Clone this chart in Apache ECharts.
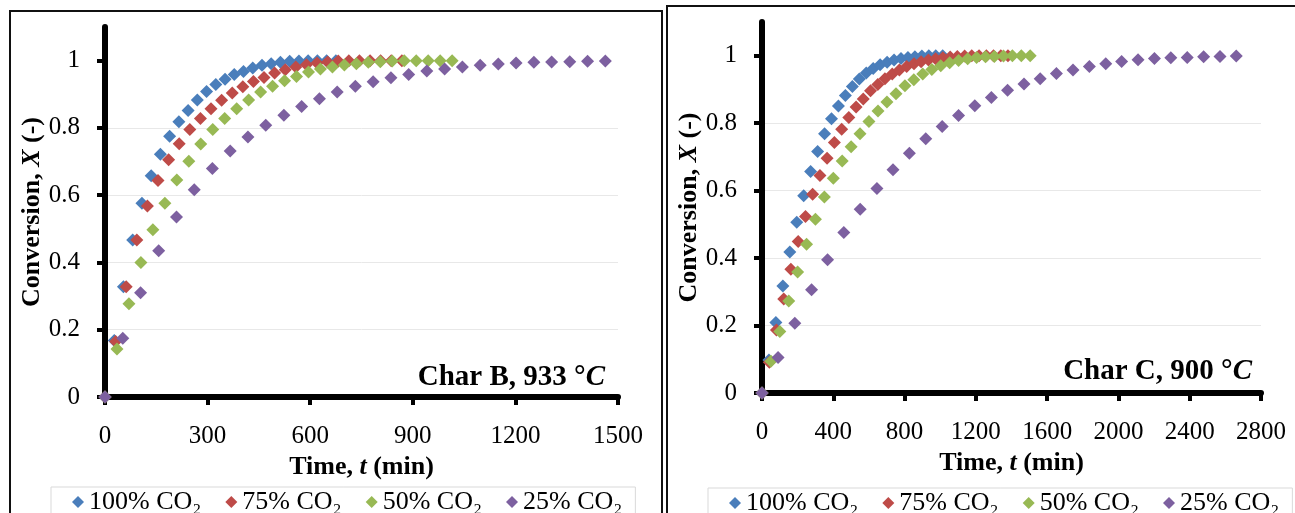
<!DOCTYPE html>
<html>
<head>
<meta charset="utf-8">
<script src="https://cdn.jsdelivr.net/npm/echarts@6/dist/echarts.min.js"></script>
<style>
  html, body { margin: 0; padding: 0; background: #fff; }
  #chart { width: 1295px; height: 513px; }
</style>
</head>
<body>
<div id="chart"></div>
<script>
// series names (legend)
var names = ['100% CO₂', '75% CO₂', '50% CO₂', '25% CO₂'];
var colors = ['#4A7EBB', '#BE4B48', '#98B954', '#7D60A0'];

// Char B, 933 °C  (time in min, conversion X)
var b100T = [0, 27, 54, 81, 108, 135, 162, 189, 216, 243, 270, 297, 324, 351, 378, 405, 432, 459, 486, 513, 540, 567, 594, 621, 648, 675];
var b100X = [0, 0.168, 0.328, 0.467, 0.576, 0.658, 0.722, 0.775, 0.818, 0.852, 0.883, 0.908, 0.929, 0.945, 0.959, 0.968, 0.978, 0.986, 0.991, 0.995, 0.998, 0.999, 1, 1, 1, 1];
var b75T = [0, 31, 62, 93, 124, 155, 186, 217, 248, 279, 310, 341, 372, 403, 434, 465, 496, 527, 558, 589, 620, 651, 682, 713, 744, 775, 806, 837, 868];
var b75X = [0, 0.165, 0.328, 0.467, 0.568, 0.644, 0.705, 0.753, 0.795, 0.828, 0.857, 0.882, 0.904, 0.922, 0.938, 0.950, 0.963, 0.973, 0.981, 0.988, 0.993, 0.996, 0.999, 1, 1, 1, 1, 1, 1];
var b50T = [0, 35, 70, 105, 140, 175, 210, 245, 280, 315, 350, 385, 420, 455, 490, 525, 560, 595, 630, 665, 700, 735, 770, 805, 840, 875, 910, 945, 980, 1015];
var b50X = [0, 0.143, 0.277, 0.400, 0.497, 0.576, 0.645, 0.701, 0.752, 0.795, 0.828, 0.857, 0.883, 0.907, 0.924, 0.940, 0.953, 0.966, 0.975, 0.981, 0.987, 0.991, 0.995, 0.997, 0.999, 1, 1, 1, 1, 1];
var b25T = [0, 52, 104, 157, 209, 261, 314, 366, 418, 470, 523, 575, 627, 679, 732, 784, 836, 888, 941, 993, 1045, 1097, 1150, 1202, 1254, 1306, 1359, 1411, 1463];
var b25X = [0, 0.175, 0.310, 0.435, 0.535, 0.616, 0.679, 0.731, 0.773, 0.808, 0.838, 0.864, 0.887, 0.907, 0.924, 0.937, 0.949, 0.959, 0.969, 0.975, 0.981, 0.986, 0.990, 0.993, 0.995, 0.996, 0.997, 0.998, 0.999];

// Char C, 900 °C
var c100T = [0, 39, 78, 117, 156, 195, 234, 273, 312, 351, 390, 429, 468, 507, 546, 585, 624, 663, 702, 741, 780, 819, 858, 897, 936, 975, 1014];
var c100X = [0, 0.098, 0.209, 0.317, 0.418, 0.506, 0.585, 0.657, 0.716, 0.769, 0.813, 0.851, 0.882, 0.909, 0.931, 0.949, 0.962, 0.973, 0.981, 0.987, 0.992, 0.995, 0.997, 0.999, 1, 1, 1];
var c75T = [0, 41, 81, 122, 162, 203, 244, 284, 325, 365, 406, 447, 487, 528, 568, 609, 650, 690, 731, 771, 812, 853, 893, 934, 974, 1015, 1056, 1096, 1137, 1177, 1218, 1259, 1299, 1340, 1380];
var c75X = [0, 0.091, 0.187, 0.279, 0.367, 0.449, 0.523, 0.589, 0.645, 0.696, 0.743, 0.782, 0.817, 0.848, 0.872, 0.896, 0.915, 0.932, 0.946, 0.958, 0.968, 0.976, 0.982, 0.987, 0.991, 0.994, 0.996, 0.998, 0.999, 1, 1, 1, 1, 1, 1];
var c50T = [0, 50, 100, 150, 200, 250, 300, 350, 400, 450, 500, 550, 600, 651, 701, 752, 802, 852, 902, 953, 1003, 1053, 1103, 1154, 1204, 1254, 1304, 1355, 1405, 1455, 1505];
var c50X = [0, 0.094, 0.182, 0.273, 0.359, 0.441, 0.515, 0.581, 0.637, 0.688, 0.730, 0.769, 0.805, 0.836, 0.863, 0.887, 0.911, 0.929, 0.946, 0.959, 0.970, 0.979, 0.986, 0.991, 0.995, 0.997, 0.998, 0.999, 1, 1, 1];
var c25T = [0, 90, 184, 278, 368, 459, 551, 645, 735, 827, 919, 1011, 1103, 1194, 1287, 1378, 1470, 1561, 1652, 1745, 1837, 1929, 2018, 2110, 2202, 2294, 2386, 2478, 2570, 2661];
var c25X = [0, 0.105, 0.207, 0.306, 0.395, 0.476, 0.545, 0.606, 0.662, 0.711, 0.754, 0.790, 0.823, 0.852, 0.876, 0.898, 0.916, 0.932, 0.947, 0.958, 0.968, 0.976, 0.983, 0.988, 0.992, 0.994, 0.995, 0.997, 0.998, 0.999];

var yTicks = [0, 0.2, 0.4, 0.6, 0.8, 1];

var FONT = '"Liberation Serif", "Times New Roman", serif';

function zip(ts, xs) {
    var out = [];
    for (var i = 0; i < ts.length; i++) out.push([ts[i], xs[i]]);
    return out;
}

var chart = echarts.init(document.getElementById('chart'));

function titleStyle() {
    return {
        fontFamily: FONT, fontSize: 26, fontWeight: 'bold', color: '#000',
        rich: { i: { fontFamily: FONT, fontSize: 26, fontWeight: 'bold', fontStyle: 'italic', color: '#000' } }
    };
}

function xAxisFor(idx, max, interval) {
    return {
        type: 'value', gridIndex: idx, min: 0, max: max, interval: interval,
        name: 'Time, {i|t} (min)', nameLocation: 'middle', nameGap: 54,
        nameTextStyle: titleStyle(),
        axisLine: { show: true, onZero: false, lineStyle: { color: '#000', width: 6 } },
        axisTick: { show: true, inside: false, length: 8, lineStyle: { color: '#000', width: 4 } },
        axisLabel: {
            margin: 27, fontFamily: FONT, fontSize: 25, color: '#000',
            formatter: function (v) { return String(v); }
        },
        splitLine: { show: false }
    };
}

function yAxisFor(idx) {
    return {
        type: 'value', gridIndex: idx, min: 0, max: 1.1,
        name: 'Conversion, {i|X} (-)', nameLocation: 'middle', nameGap: 60,
        nameTextStyle: titleStyle(),
        axisLine: { show: true, onZero: false, lineStyle: { color: '#000', width: 6 } },
        axisTick: { show: true, length: 8, customValues: yTicks, lineStyle: { color: '#000', width: 4 } },
        axisLabel: { margin: 25, fontFamily: FONT, fontSize: 25, color: '#000', customValues: yTicks },
        splitLine: { show: true, showMaxLine: false, lineStyle: { color: '#e8e8e8', width: 1 } }
    };
}

function legendFor(left, top) {
    return {
        left: left, top: top, width: 640, orient: 'horizontal',
        data: names, icon: 'diamond', itemWidth: 12, itemHeight: 12, itemGap: 24,
        selectedMode: false,
        borderColor: '#d9d9d9', borderWidth: 1, padding: [2, 13, 6, 21],
        textStyle: { fontFamily: FONT, fontSize: 26, color: '#000' }
    };
}

var bSets = [[b100T, b100X], [b75T, b75X], [b50T, b50X], [b25T, b25X]];
var cSets = [[c100T, c100X], [c75T, c75X], [c50T, c50X], [c25T, c25X]];

var series = [];
[bSets, cSets].forEach(function (sets, g) {
    sets.forEach(function (s, k) {
        series.push({
            name: names[k],
            type: 'scatter',
            xAxisIndex: g, yAxisIndex: g,
            symbol: 'diamond', symbolSize: 13,
            itemStyle: { color: colors[k], opacity: 1 },
            data: zip(s[0], s[1]),
            z: 3 + k
        });
    });
});

var option = {
    backgroundColor: '#fff',
    animation: false,
    grid: [
        { left: 105, top: 27, width: 513, height: 370 },
        { left: 762, top: 22, width: 499, height: 371 }
    ],
    xAxis: [xAxisFor(0, 1500, 300), xAxisFor(1, 2800, 400)],
    yAxis: [yAxisFor(0), yAxisFor(1)],
    legend: [legendFor(51, 487), legendFor(708, 488)],
    graphic: [
        // panel frames
        { type: 'rect', shape: { x: 10, y: 11, width: 652, height: 600 }, style: { fill: null, stroke: '#111', lineWidth: 2 }, z: 0 },
        { type: 'rect', shape: { x: 667, y: 6, width: 700, height: 600 }, style: { fill: null, stroke: '#111', lineWidth: 2 }, z: 0 },
        // panel labels
        {
            type: 'text', x: 605, y: 378, z: 10,
            style: {
                text: 'Char B, 933 °{i|C}', align: 'right', verticalAlign: 'middle',
                font: 'bold 29px ' + FONT, fill: '#000',
                rich: { i: { fontFamily: FONT, fontSize: 29, fontWeight: 'bold', fontStyle: 'italic', fill: '#000' } }
            }
        },
        {
            type: 'text', x: 1252, y: 372, z: 10,
            style: {
                text: 'Char C, 900 °{i|C}', align: 'right', verticalAlign: 'middle',
                font: 'bold 29px ' + FONT, fill: '#000',
                rich: { i: { fontFamily: FONT, fontSize: 29, fontWeight: 'bold', fontStyle: 'italic', fill: '#000' } }
            }
        }
    ],
    series: series
};

chart.setOption(option);
</script>
</body>
</html>
